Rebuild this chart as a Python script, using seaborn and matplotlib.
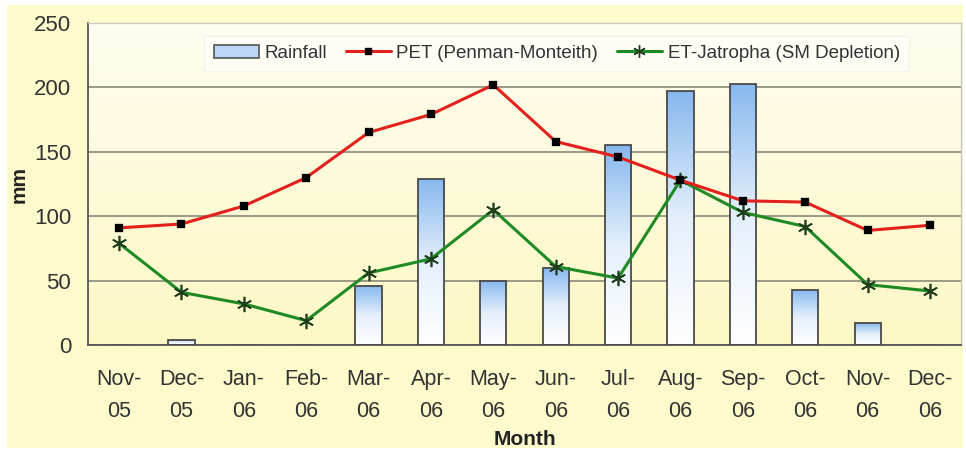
import numpy as np
import pandas as pd
import matplotlib
matplotlib.use('Agg')
from matplotlib import pyplot as plt
from matplotlib.colors import LinearSegmentedColormap
from matplotlib.lines import Line2D
from matplotlib.patches import Rectangle
import seaborn as sns

months = ['Nov-\n05', 'Dec-\n05', 'Jan-\n06', 'Feb-\n06', 'Mar-\n06', 'Apr-\n06', 'May-\n06',
          'Jun-\n06', 'Jul-\n06', 'Aug-\n06', 'Sep-\n06', 'Oct-\n06', 'Nov-\n06', 'Dec-\n06']
rainfall = [0, 4, 0, 0, 46, 129, 50, 60, 155, 197, 203, 43, 17, 0]
pet = [91, 94, 108, 130, 165, 179, 202, 158, 146, 128, 112, 111, 89, 93]
et_jatropha = [79, 41, 32, 19, 56, 67, 105, 61, 52, 128, 103, 92, 47, 42]

df = pd.DataFrame({'Month': months, 'Rainfall': rainfall, 'PET': pet, 'ET': et_jatropha})

sns.set_style('white')
plt.rcParams['font.family'] = ['Liberation Sans', 'DejaVu Sans']

fig = plt.figure(figsize=(9.66, 4.5), dpi=100)
fig.patch.set_facecolor('white')
fig.patches.append(Rectangle((0.007, 0.005), 0.99, 0.983, transform=fig.transFigure,
                             facecolor='#fdfbcc', edgecolor='none', zorder=-10))
ax = fig.add_axes([0.091, 0.233, 0.904, 0.716])
ax.set_facecolor('none')

# plot area background: pale at top, yellow lower down
bg = LinearSegmentedColormap.from_list('bg', ['#fcf8c4', '#fffdf0'])
ax.imshow(np.linspace(0, 1, 256).reshape(-1, 1), cmap=bg, aspect='auto', origin='lower',
          extent=[0, 1, 0, 1], transform=ax.transAxes, zorder=-5)

sns.barplot(data=df, x='Month', y='Rainfall', order=months, width=0.42,
            color='#9cc6f2', edgecolor='#4a4a4a', linewidth=1.3, ax=ax, zorder=2)

bar_cmap = LinearSegmentedColormap.from_list('bar', ['#ffffff', '#e4effb', '#86b8ef'])
for p in ax.patches:
    h = p.get_height()
    if h <= 0:
        continue
    x0 = p.get_x()
    w = p.get_width()
    im = ax.imshow(np.linspace(0, 1, 256).reshape(-1, 1), cmap=bar_cmap, aspect='auto',
                   origin='lower', extent=[x0, x0 + w, 0, h], zorder=2.5)
    im.set_clip_path(p)
    p.set_facecolor('none')
    p.set_zorder(3)

sns.pointplot(data=df, x='Month', y='PET', order=months, color='#e3201c', markers='s',
              markersize=4.5, linewidth=2.2, markeredgecolor='black', markerfacecolor='black',
              ax=ax, zorder=5)
sns.pointplot(data=df, x='Month', y='ET', order=months, color='#1f8a24', markers=(6, 2, 0),
              markersize=11, linewidth=2.2, markeredgecolor='#1d3d1d', markeredgewidth=1.2,
              ax=ax, zorder=4)

ax.set_xlim(-0.5, len(months) - 0.5)
ax.set_ylim(0, 250)
ax.set_yticks(range(0, 251, 50))
ax.yaxis.grid(True, color='#8a8a7a', linewidth=1.2)
ax.set_axisbelow(True)

ax.set_xticks(np.arange(len(months)))
ax.set_xticklabels(months, fontsize=15.5, color='#333333', linespacing=1.7)
ax.tick_params(axis='x', length=0, pad=17)
ax.tick_params(axis='y', labelsize=16, labelcolor='#333333', length=0, pad=12)
ax.set_xticks(np.arange(len(months) + 1) - 0.5, minor=True)
ax.tick_params(axis='x', which='minor', length=7, color='#666666', direction='out')

for side in ['left', 'bottom']:
    ax.spines[side].set_color('#555555')
    ax.spines[side].set_linewidth(1.3)
for side in ['top', 'right']:
    ax.spines[side].set_color('#c8c8c0')
    ax.spines[side].set_linewidth(1.0)

ax.set_xlabel('Month', fontsize=15, fontweight='bold', color='#222222', labelpad=6)
ax.set_ylabel('mm', fontsize=15, fontweight='bold', color='#222222', labelpad=4)

handles = [
    Rectangle((0, 0), 1, 1, facecolor='#bcd7f5', edgecolor='#555555', linewidth=1.2),
    Line2D([], [], color='#e3201c', linewidth=2.2, marker='s', markersize=4.5,
           markerfacecolor='black', markeredgecolor='black'),
    Line2D([], [], color='#1f8a24', linewidth=2.2, marker=(6, 2, 0), markersize=9,
           markeredgecolor='#1d3d1d'),
]
labels = ['Rainfall', 'PET (Penman-Monteith)', 'ET-Jatropha (SM Depletion)']
leg = ax.legend(handles, labels, ncol=3, loc='upper center', bbox_to_anchor=(0.537, 0.99),
                fontsize=13.5, frameon=True, fancybox=False, handlelength=2.4,
                handletextpad=0.3, columnspacing=1.0, borderpad=0.5)
leg.get_frame().set_facecolor('white')
leg.get_frame().set_alpha(0.5)
leg.get_frame().set_edgecolor('#ecece6')
for t in leg.get_texts():
    t.set_color('#333333')

fig.savefig('out.png', dpi=100)
